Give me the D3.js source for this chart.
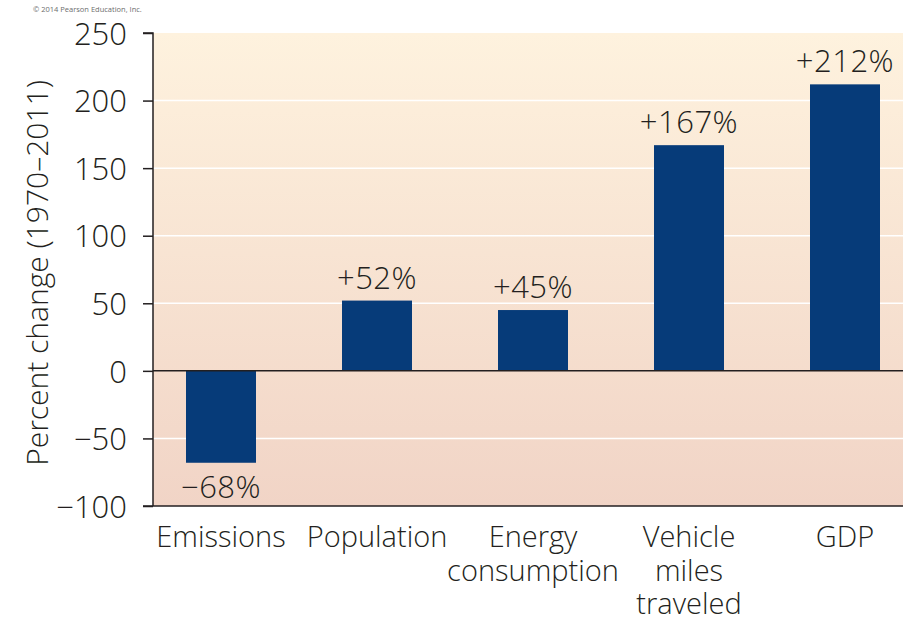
<!DOCTYPE html>
<html><head><meta charset="utf-8">
<script src="https://cdn.jsdelivr.net/npm/d3@7"></script>
<style>
html,body{margin:0;padding:0;background:#fff;}
text{font-family:"Open Sans",sans-serif;fill:#231f20;font-weight:300;}
</style></head>
<body><svg id="c" width="910" height="622"></svg>
<script>
const categories = ["Emissions", "Population", "Energy\nconsumption", "Vehicle\nmiles\ntraveled", "GDP"];
const values = [-68, 52, 45, 167, 212];
const valueLabels = ["\u221268%", "+52%", "+45%", "+167%", "+212%"];
const yTicks = [-100, -50, 0, 50, 100, 150, 200, 250];
const yTitle = "Percent change (1970\u20132011)";
const credit = "\u00a9 2014 Pearson Education, Inc.";

const svg = d3.select("#c");
const L = 153, R = 903, T = 33, B = 506;
const y = d3.scaleLinear().domain([-100, 250]).range([B, T]);
const x = d3.scaleBand().domain(categories).range([186, 880]).paddingInner(0.5513).paddingOuter(0);

const defs = svg.append("defs");
const g = defs.append("linearGradient").attr("id","bg").attr("x1",0).attr("y1",0).attr("x2",0).attr("y2",1);
g.append("stop").attr("offset","0%").attr("stop-color","#fef2de");
g.append("stop").attr("offset","100%").attr("stop-color","#f1d4c6");

svg.append("rect").attr("x",L).attr("y",T).attr("width",R-L).attr("height",B-T).attr("fill","url(#bg)");

// gridlines
svg.append("g").selectAll("line").data(yTicks.filter(d => d!==0 && d!==-100 && d!==250)).join("line")
  .attr("x1",L).attr("x2",R).attr("y1",d=>y(d)).attr("y2",d=>y(d))
  .attr("stroke","#ffffff").attr("stroke-width",1.5);

// bars
svg.append("g").selectAll("rect").data(values).join("rect")
  .attr("x",(d,i)=>x(categories[i]))
  .attr("width",x.bandwidth())
  .attr("y",d=>y(Math.max(0,d)))
  .attr("height",d=>Math.abs(y(d)-y(0)))
  .attr("fill","#063b79");

// zero line
svg.append("line").attr("x1",L).attr("x2",R).attr("y1",y(0)).attr("y2",y(0)).attr("stroke","#231f20").attr("stroke-width",1.5);

// y axis
const yAxis = svg.append("g").attr("transform",`translate(${L},0)`)
  .call(d3.axisLeft(y).tickValues(yTicks).tickSize(10).tickPadding(16).tickFormat(d => d<0 ? "\u2212"+Math.abs(d) : d));
yAxis.select(".domain").attr("stroke","#231f20").attr("stroke-width",1.5).attr("d",`M-10,${T}H0V${B}`);
yAxis.selectAll(".tick line").attr("stroke","#231f20").attr("stroke-width",1.5);
yAxis.selectAll(".tick text").attr("font-size",31).attr("font-family","'Open Sans',sans-serif").attr("font-weight",300).attr("fill","#231f20").attr("dy","0.36em");

// bottom baseline
svg.append("line").attr("x1",L-10).attr("x2",R).attr("y1",B).attr("y2",B).attr("stroke","#231f20").attr("stroke-width",1.5);

// category labels
const cat = svg.append("g").selectAll("text").data(categories).join("text")
  .attr("text-anchor","middle").attr("font-size",29)
  .attr("transform",d=>`translate(${x(d)+x.bandwidth()/2},547)`);
cat.selectAll("tspan").data(d=>d.split("\n")).join("tspan")
  .attr("x",0).attr("y",(d,i)=>i*33.5).text(d=>d);

// value labels
svg.append("g").selectAll("text").data(values).join("text")
  .attr("text-anchor","middle").attr("font-size",31).attr("letter-spacing",0.5)
  .attr("x",(d,i)=>x(categories[i])+x.bandwidth()/2)
  .attr("y",d=> d>=0 ? y(d)-12 : y(d)+35)
  .text((d,i)=>valueLabels[i]);

// y title
svg.append("text").attr("text-anchor","middle").attr("font-size",30)
  .attr("transform","translate(48,273) rotate(-90)").text(yTitle);

// credit
svg.append("text").attr("x",33).attr("y",12).attr("font-size",7.5).style("fill","#6d6d6d").style("font-weight",400).text(credit);
</script></body></html>
